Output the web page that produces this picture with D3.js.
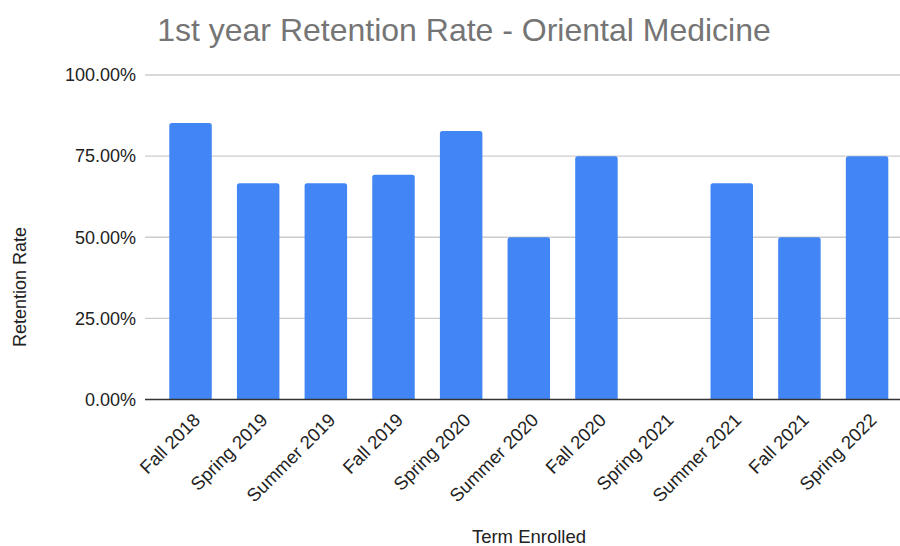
<!DOCTYPE html>
<html><head><meta charset="utf-8">
<script src="https://cdn.jsdelivr.net/npm/d3@7"></script>
<style>body{margin:0;background:#fff}svg{display:block;font-family:Arial,"Liberation Sans",sans-serif}</style>
</head><body><svg id="c" width="900" height="546"></svg>
<script>
const categories = ["Fall 2018","Spring 2019","Summer 2019","Fall 2019","Spring 2020","Summer 2020","Fall 2020","Spring 2021","Summer 2021","Fall 2021","Spring 2022"];
const retention = [0.852, 0.6667, 0.6667, 0.6923, 0.8276, 0.5, 0.75, 0, 0.6667, 0.5, 0.75];
const yTicks = [0, 0.25, 0.5, 0.75, 1];

const svg = d3.select("#c");
const plotLeft = 145, plotRight = 900, plotTop = 75, plotBottom = 399.5;
const x = d3.scaleBand().domain(categories).range([156.7, 900.9]).paddingInner(0.372).paddingOuter(0.186);
const y = d3.scaleLinear().domain([0, 1]).range([plotBottom, plotTop]);

svg.append("text").attr("x", 464).attr("y", 41).attr("text-anchor", "middle")
  .attr("font-size", 32).attr("fill", "#757575").text("1st year Retention Rate - Oriental Medicine");

const g = svg.append("g");
g.selectAll("line.grid").data(yTicks.filter(d => d > 0)).join("line")
  .attr("x1", plotLeft).attr("x2", plotRight).attr("y1", d => y(d)).attr("y2", d => y(d))
  .attr("stroke", "#cccccc").attr("stroke-width", 1.3);

const yAxis = d3.axisLeft(y).tickValues(yTicks).tickFormat(d3.format(".2%")).tickSize(0).tickPadding(9);
const ya = svg.append("g").attr("transform", `translate(${plotLeft},0)`).call(yAxis);
ya.select(".domain").remove();
ya.selectAll("text").attr("font-size", 18).attr("fill", "#222").attr("font-family", "Arial, 'Liberation Sans', sans-serif");

g.selectAll("path.bar").data(categories.map((c, i) => ({c, v: retention[i]}))).join("path")
  .attr("fill", "#4285f4")
  .attr("d", d => {
    const x0 = x(d.c), w = x.bandwidth(), y0 = y(d.v), h = plotBottom - y0;
    if (h <= 0) return "";
    const r = Math.min(2.5, h);
    return `M${x0},${plotBottom}V${y0 + r}Q${x0},${y0} ${x0 + r},${y0}H${x0 + w - r}Q${x0 + w},${y0} ${x0 + w},${y0 + r}V${plotBottom}Z`;
  });

svg.append("line").attr("x1", plotLeft).attr("x2", plotRight).attr("y1", plotBottom).attr("y2", plotBottom)
  .attr("stroke", "#333").attr("stroke-width", 1.3);

const xa = svg.append("g").attr("transform", `translate(0,${plotBottom})`).call(d3.axisBottom(x).tickSize(0));
xa.select(".domain").remove();
xa.selectAll("text").attr("font-size", 18.5).attr("fill", "#222").attr("font-family", "Arial, 'Liberation Sans', sans-serif")
  .attr("text-anchor", "end").attr("dy", "0.35em")
  .attr("transform", "translate(4,15) rotate(-45)");

svg.append("text").attr("transform", "translate(26,287) rotate(-90)").attr("text-anchor", "middle")
  .attr("font-size", 18).attr("fill", "#222").text("Retention Rate");
svg.append("text").attr("x", 529).attr("y", 543).attr("text-anchor", "middle")
  .attr("font-size", 18.5).attr("fill", "#222").text("Term Enrolled");
</script></body></html>
